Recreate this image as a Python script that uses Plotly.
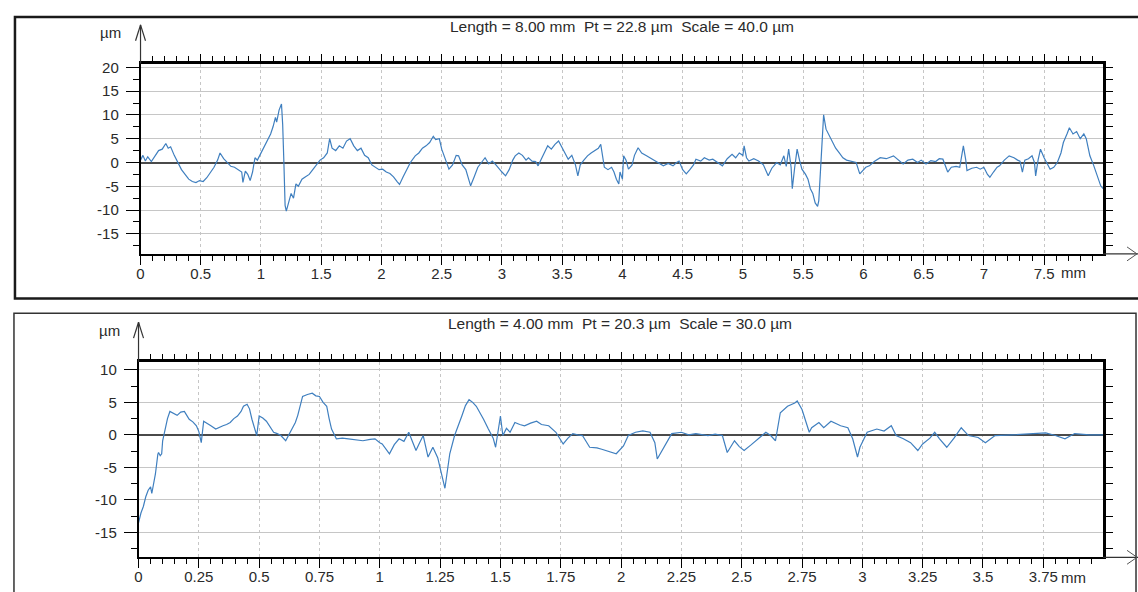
import plotly.graph_objects as go

W, H = 1138, 592

# ---------------- data ----------------
top_x = [0.00,0.02,0.04,0.06,0.09,0.12,0.15,0.18,0.21,0.23,0.25,0.28,0.31,0.34,0.37,0.40,0.43,0.46,0.49,0.52,
         0.55,0.58,0.61,0.64,0.66,0.69,0.72,0.75,0.78,0.81,0.84,0.85,0.87,0.89,0.91,0.93,0.95,0.97,1.00,1.03,
         1.06,1.08,1.10,1.12,1.13,1.15,1.17,1.18,1.19,1.20,1.21,1.23,1.25,1.27,1.29,1.31,1.34,1.37,1.40,1.43,
         1.46,1.49,1.52,1.55,1.57,1.59,1.62,1.65,1.68,1.71,1.74,1.77,1.80,1.83,1.86,1.89,1.92,1.95,1.98,2.01,
         2.04,2.07,2.10,2.13,2.15,2.18,2.21,2.24,2.28,2.31,2.34,2.37,2.40,2.43,2.45,2.48,2.50,2.53,2.56,2.59,
         2.62,2.64,2.67,2.70,2.72,2.74,2.77,2.80,2.83,2.86,2.89,2.92,2.95,2.98,3.00,3.03,3.06,3.09,3.11,3.14,
         3.17,3.20,3.22,3.25,3.28,3.30,3.33,3.36,3.38,3.41,3.44,3.47,3.49,3.52,3.55,3.58,3.61,3.63,3.65,3.68,
         3.71,3.74,3.77,3.80,3.82,3.84,3.85,3.88,3.91,3.93,3.95,3.97,3.98,4.00,4.01,4.03,4.05,4.08,4.10,4.13,
         4.16,4.20,4.24,4.28,4.31,4.34,4.38,4.42,4.45,4.47,4.50,4.53,4.56,4.59,4.61,4.65,4.68,4.72,4.75,4.79,
         4.83,4.87,4.91,4.94,4.97,5.00,5.01,5.03,5.05,5.09,5.13,5.17,5.21,5.24,5.28,5.31,5.34,5.36,5.38,5.40,
         5.41,5.43,5.45,5.47,5.49,5.52,5.54,5.56,5.58,5.60,5.62,5.63,5.64,5.66,5.67,5.69,5.71,5.73,5.75,5.77,
         5.80,5.83,5.86,5.90,5.94,5.97,6.00,6.02,6.05,6.09,6.14,6.19,6.25,6.29,6.33,6.37,6.41,6.45,6.48,6.52,
         6.56,6.60,6.63,6.66,6.68,6.70,6.73,6.77,6.80,6.83,6.85,6.86,6.90,6.94,6.97,7.00,7.03,7.05,7.08,7.11,
         7.13,7.17,7.21,7.25,7.28,7.30,7.32,7.34,7.37,7.40,7.42,7.43,7.45,7.47,7.50,7.53,7.55,7.58,7.61,7.64,
         7.66,7.69,7.71,7.74,7.77,7.80,7.83,7.85,7.88,7.91,7.93,7.95,7.97,7.99]
top_y = [0.5,1.5,0.3,1.2,0.2,1.5,2.5,2.8,4.0,3.0,3.3,1.5,0.0,-1.5,-2.5,-3.5,-4.0,-4.2,-3.8,-4.0,
         -3.2,-2.0,-1.0,0.5,2.0,0.8,0.0,-0.8,-1.0,-1.5,-2.0,-4.2,-1.8,-2.5,-3.8,-2.0,1.0,0.5,2.0,3.5,
         5.0,6.0,7.5,9.5,8.5,11.0,12.3,8.0,0.0,-9.0,-10.2,-8.0,-6.5,-7.5,-4.5,-5.0,-3.5,-3.0,-2.5,-1.5,
         -0.5,0.5,1.0,2.0,5.0,3.0,2.5,3.5,3.0,4.5,5.0,3.5,2.5,3.0,1.5,1.0,-0.5,-1.0,-1.5,-1.4,
         -2.0,-2.3,-3.0,-4.0,-4.6,-3.0,-1.5,0.0,1.4,2.0,3.0,3.5,4.2,5.5,4.8,5.0,2.8,0.5,-1.4,-0.5,
         1.5,1.4,-0.5,-1.5,-3.5,-4.9,-3.0,-1.0,0.0,1.0,-0.3,0.3,-0.5,-1.5,-2.0,-2.8,-1.5,0.5,1.4,2.0,
         1.5,0.5,1.0,0.3,0.2,-0.7,1.0,2.5,3.5,2.8,3.8,4.5,3.5,2.0,0.7,1.5,-0.5,-2.8,-0.5,0.5,
         1.4,2.0,2.5,3.0,3.8,1.0,-1.0,-1.5,-1.0,-2.0,-3.5,-4.5,-2.0,-3.5,1.4,0.5,-1.4,-0.5,1.5,3.1,
         2.0,1.4,0.8,0.3,-0.3,-0.7,-0.2,-0.7,0.0,0.3,-1.5,-2.4,-1.5,-0.5,0.7,0.3,1.0,0.5,0.7,0.0,
         -0.7,0.8,1.7,1.0,2.0,1.5,3.5,1.0,0.3,0.8,0.3,-0.5,-2.8,-1.2,0.0,-0.5,1.4,-0.8,2.8,-1.0,
         -5.5,-1.0,2.8,0.5,-1.4,-2.5,-3.5,-5.5,-6.5,-8.5,-9.2,-8.0,-3.5,5.0,10.0,7.0,6.0,5.0,4.0,3.0,
         2.0,1.0,0.5,0.3,0.0,-2.4,-1.5,-1.0,-0.7,0.2,1.0,0.8,1.4,0.5,-0.3,0.5,0.7,0.0,0.5,-0.3,
         0.4,0.2,0.8,0.7,-0.5,-2.0,-1.0,-0.8,-1.0,3.5,0.5,-1.7,-1.2,-1.0,-1.4,-1.0,-2.5,-3.1,-2.0,-1.0,
         -0.7,0.5,1.4,1.0,0.5,0.3,-2.0,0.5,0.8,1.4,0.0,-2.8,0.5,2.8,1.0,-0.5,-1.4,-1.0,0.0,2.0,
         4.2,6.0,7.3,6.0,6.5,5.0,6.0,5.0,1.4,-0.5,-2.0,-3.5,-4.9,-5.5]

bot_x = [0.000,0.010,0.020,0.030,0.040,0.050,0.055,0.065,0.070,0.080,0.083,0.090,0.096,0.100,0.110,0.120,0.130,0.145,0.160,0.175,
         0.190,0.200,0.210,0.225,0.240,0.250,0.260,0.270,0.285,0.300,0.320,0.335,0.350,0.365,0.380,0.395,0.410,0.425,0.435,0.450,
         0.460,0.470,0.480,0.490,0.500,0.515,0.530,0.545,0.560,0.575,0.590,0.610,0.630,0.650,0.660,0.670,0.680,0.700,0.720,0.735,
         0.750,0.765,0.780,0.790,0.800,0.820,0.845,0.870,0.900,0.930,0.960,0.980,1.000,1.010,1.040,1.060,1.080,1.100,1.120,1.135,
         1.150,1.165,1.180,1.200,1.220,1.240,1.255,1.270,1.290,1.310,1.340,1.355,1.370,1.385,1.400,1.415,1.430,1.450,1.470,1.480,
         1.500,1.510,1.525,1.540,1.560,1.580,1.600,1.625,1.650,1.670,1.700,1.730,1.760,1.780,1.800,1.820,1.840,1.870,1.900,1.920,
         1.950,1.980,2.010,2.030,2.060,2.090,2.120,2.140,2.150,2.170,2.190,2.210,2.250,2.280,2.310,2.340,2.360,2.390,2.420,2.440,
         2.470,2.490,2.510,2.540,2.560,2.600,2.620,2.640,2.660,2.690,2.720,2.730,2.750,2.780,2.790,2.820,2.840,2.870,2.910,2.940,
         2.960,2.980,2.990,3.020,3.060,3.090,3.120,3.140,3.170,3.200,3.230,3.250,3.280,3.300,3.320,3.350,3.380,3.410,3.440,3.480,
         3.510,3.550,3.620,3.690,3.760,3.800,3.840,3.880,3.940,3.998]
bot_y = [-13.5,-12.0,-11.0,-9.5,-8.5,-8.0,-9.0,-7.0,-6.0,-3.0,-2.7,-3.2,-2.9,-0.9,0.9,2.5,3.6,3.3,3.0,3.5,
         3.6,3.0,2.4,2.0,1.4,0.5,-1.2,2.1,1.8,1.4,0.9,1.2,1.4,1.6,1.9,2.5,2.9,3.6,4.4,4.7,
         4.0,2.4,1.0,-0.1,2.9,2.6,2.1,1.2,0.4,0.2,-0.1,-0.9,0.4,1.9,3.0,4.4,5.9,6.2,6.4,6.0,
         5.9,5.0,4.4,2.5,0.9,-0.6,-0.5,-0.6,-0.8,-0.9,-0.7,-0.6,-1.2,-1.4,-2.9,-1.5,-0.6,-1.0,0.4,-1.0,
         -2.4,-1.2,-0.1,-3.4,-1.9,-3.5,-6.0,-8.2,-2.9,-0.1,2.9,4.5,5.4,5.0,4.4,3.5,2.4,0.9,-0.5,-1.9,
         2.9,-0.1,1.0,0.4,1.9,1.6,1.4,1.8,2.1,1.6,1.4,0.4,-1.4,-0.5,0.2,0.0,-0.1,-1.9,-2.0,-2.2,
         -2.5,-2.9,-1.7,-0.1,0.4,0.6,0.4,-1.2,-3.7,-2.4,-0.9,0.2,0.4,0.0,0.2,0.0,-0.1,0.1,-0.1,-2.7,
         -0.9,-1.8,-2.4,-1.5,-0.9,0.4,-0.1,-0.9,3.4,4.4,4.9,5.2,3.9,0.4,1.1,1.9,1.1,2.1,1.4,1.1,
         -0.6,-3.4,-1.9,0.4,0.9,0.6,1.4,-0.1,-0.6,-1.2,-2.4,-1.4,-0.5,0.4,-0.6,-1.9,-0.5,1.1,-0.1,-0.4,
         -1.2,-0.1,0.0,0.2,0.3,-0.1,-0.6,0.2,0.0,0.0]

top_title = "Length = 8.00 mm  Pt = 22.8 µm  Scale = 40.0 µm"
bot_title = "Length = 4.00 mm  Pt = 20.3 µm  Scale = 30.0 µm"
top_xrange = [0, 7.99]
top_yrange = [-19.2, 20.8]
bot_xrange = [0, 3.998]
bot_yrange = [-18.8, 11.2]
top_ytickvals = [-15, -10, -5, 0, 5, 10, 15, 20]
top_yticktext = ["-15", "-10", "-5", "0", "5", "10", "15", "20"]
bot_ytickvals = [-15, -10, -5, 0, 5, 10]
bot_yticktext = ["-15", "-10", "-5", "0", "5", "10"]

# ---------------- pixel helpers (layout only) ----------------
def px(x):
    return x / W

def py(y):
    return 1 - y / H

T = dict(l=137, r=1103, t=59, b=251)
B = dict(l=135, r=1103, t=360, b=557)

LINE_COLOR = "#3f7fbf"
GRID = "#c6c6c6"
FONT = "Liberation Sans"
TXT = "#2a2a2a"
FS = 15

fig = go.Figure()
fig.add_trace(go.Scatter(x=top_x, y=top_y, mode="lines", xaxis="x", yaxis="y",
                         line=dict(color=LINE_COLOR, width=1.2), showlegend=False, hoverinfo="skip"))
fig.add_trace(go.Scatter(x=bot_x, y=bot_y, mode="lines", xaxis="x2", yaxis="y2",
                         line=dict(color=LINE_COLOR, width=1.2), showlegend=False, hoverinfo="skip"))
# invisible copies so the frame axes (top / right) are drawn
fig.add_trace(go.Scatter(x=top_x, y=top_y, mode="lines", xaxis="x3", yaxis="y3", opacity=0,
                         line=dict(width=0), showlegend=False, hoverinfo="skip"))
fig.add_trace(go.Scatter(x=bot_x, y=bot_y, mode="lines", xaxis="x4", yaxis="y4", opacity=0,
                         line=dict(width=0), showlegend=False, hoverinfo="skip"))

def xaxis_main(box, rng, dtick, mdtick, yanchor):
    return dict(domain=[px(box["l"]), px(box["r"])], range=rng, anchor=yanchor,
                tickmode="linear", tick0=0, dtick=dtick,
                ticks="outside", ticklen=9, tickwidth=1, tickcolor="black",
                minor=dict(dtick=mdtick, tick0=0, ticks="outside", ticklen=5, tickcolor="black", showgrid=False),
                showgrid=True, gridcolor=GRID, griddash="dot", gridwidth=1,
                showline=True, linecolor="black", linewidth=2, zeroline=False,
                ticklabelstandoff=-4,
                tickfont=dict(family=FONT, size=FS, color=TXT), fixedrange=True)

def yaxis_main(box, rng, xanchor, tv, tt):
    return dict(domain=[py(box["b"]), py(box["t"])], range=rng, anchor=xanchor,
                tickmode="array", tickvals=tv, ticktext=tt,
                ticks="outside", ticklen=13, tickwidth=1, tickcolor="black",
                minor=dict(tickmode="linear", dtick=2.5, tick0=0, ticks="outside", ticklen=6,
                           tickcolor="black", showgrid=False),
                showgrid=True, gridcolor=GRID, gridwidth=1,
                zeroline=True, zerolinecolor="#4a4a4a", zerolinewidth=2,
                showline=True, linecolor="black", linewidth=1.5,
                ticklabelstandoff=4,
                tickfont=dict(family=FONT, size=FS, color=TXT), fixedrange=True)

def xaxis_top(over, rng, dtick, mdtick, yanchor):
    return dict(overlaying=over, side="top", anchor=yanchor, range=rng,
                tickmode="linear", tick0=0, dtick=dtick,
                ticks="outside", ticklen=7, tickcolor="black",
                minor=dict(dtick=mdtick, tick0=0, ticks="outside", ticklen=5, tickcolor="black", showgrid=False),
                showticklabels=False, showgrid=False, zeroline=False,
                showline=True, linecolor="black", linewidth=2.5, fixedrange=True)

def yaxis_right(over, rng, xanchor):
    return dict(overlaying=over, side="right", anchor=xanchor, range=rng,
                tickmode="linear", tick0=0, dtick=2.5,
                ticks="outside", ticklen=7, tickcolor="black",
                showticklabels=False, showgrid=False, zeroline=False,
                showline=True, linecolor="black", linewidth=2.5, fixedrange=True)

fig.update_layout(
    width=W, height=H, margin=dict(l=0, r=0, t=0, b=0),
    paper_bgcolor="white", plot_bgcolor="white",
    xaxis=xaxis_main(T, top_xrange, 0.5, 0.1, "y"),
    yaxis=yaxis_main(T, top_yrange, "x", top_ytickvals, top_yticktext),
    xaxis2=xaxis_main(B, bot_xrange, 0.25, 0.05, "y2"),
    yaxis2=yaxis_main(B, bot_yrange, "x2", bot_ytickvals, bot_yticktext),
    xaxis3=xaxis_top("x", top_xrange, 0.5, 0.1, "y"),
    yaxis3=yaxis_right("y", top_yrange, "x"),
    xaxis4=xaxis_top("x2", bot_xrange, 0.25, 0.05, "y2"),
    yaxis4=yaxis_right("y2", bot_yrange, "x2"),
    showlegend=False,
)

shapes = []
def seg(x0, y0, x1, y1, color="black", width=1.5):
    shapes.append(dict(type="line", xref="paper", yref="paper",
                       x0=px(x0), y0=py(y0), x1=px(x1), y1=py(y1),
                       line=dict(color=color, width=width)))

shapes.append(dict(type="rect", xref="paper", yref="paper", x0=px(11), y0=py(296), x1=px(1150), y1=py(12),
                   line=dict(color="#1a1a1a", width=2.5), fillcolor="rgba(0,0,0,0)", layer="below"))
shapes.append(dict(type="rect", xref="paper", yref="paper", x0=px(10), y0=py(620), x1=px(1136), y1=py(311),
                   line=dict(color="#333333", width=1.5), fillcolor="rgba(0,0,0,0)", layer="below"))

for box, apex in ((T, 20), (B, 320)):
    seg(box["l"], box["t"], box["l"], apex, "#333", 1.2)
    seg(box["l"] - 5, apex + 16, box["l"], apex, "#333", 1.2)
    seg(box["l"] + 5, apex + 16, box["l"], apex, "#333", 1.2)
    seg(box["r"], box["b"], 1138, box["b"], "#333", 1.2)
    seg(1127, box["b"] - 7, 1137, box["b"], "#555", 1)
    seg(1127, box["b"] + 7, 1137, box["b"], "#555", 1)

annotations = []
def text(x, y, s, size=FS, xanchor="center"):
    annotations.append(dict(x=px(x), y=py(y), xref="paper", yref="paper", text=s, showarrow=False,
                            xanchor=xanchor, yanchor="middle", font=dict(family=FONT, size=size, color=TXT)))

text(620, 22, top_title, 15.5)
text(618, 321, bot_title, 15.5)
text(107, 28, "µm")
text(106, 328, "µm")
text(1059, 270, "mm", xanchor="left")
text(1059, 577, "mm", xanchor="left")

fig.update_layout(shapes=shapes, annotations=annotations)
fig.write_html("out.html")
